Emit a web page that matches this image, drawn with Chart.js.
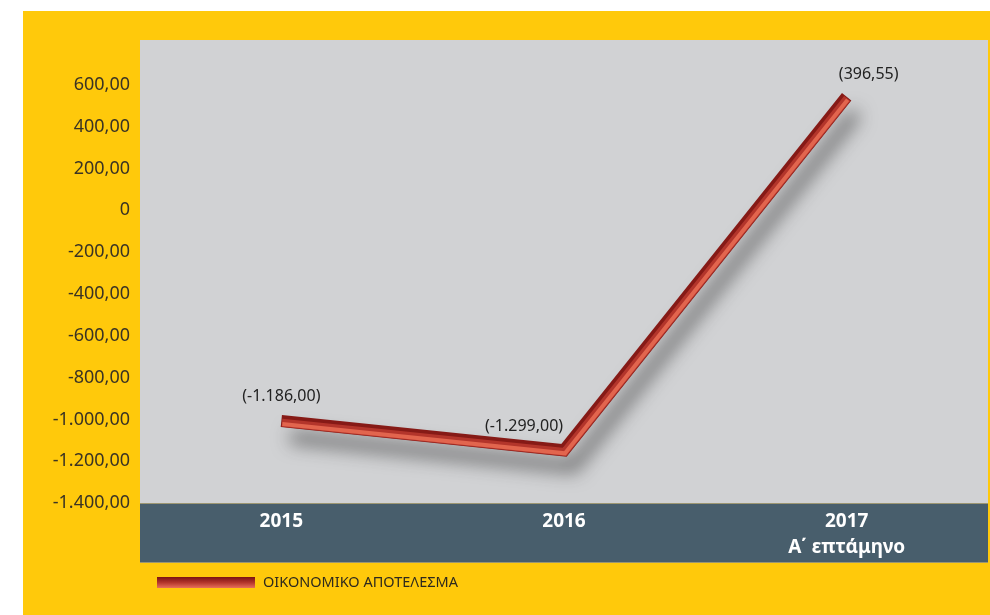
<!DOCTYPE html>
<html>
<head>
<meta charset="utf-8">
<script src="https://cdn.jsdelivr.net/npm/chart.js@4.4.0/dist/chart.umd.min.js"></script>
<style>
  html, body { margin: 0; padding: 0; background: #fff; }
  #wrap { position: absolute; left: 23px; top: 11px; width: 967px; height: 604px; background: #FFC90B; }
</style>
</head>
<body>
<div id="wrap"><canvas id="resultChart"></canvas></div>
<script>
const years = ["2015", "2016", ["2017", "Α΄ επτάμηνο"]];
const result = [-1008, -1148, 543];
const valueLabels = ["(-1.186,00)", "(-1.299,00)", "(396,55)"];
const yTicks = [600, 400, 200, 0, -200, -400, -600, -800, -1000, -1200, -1400];
const seriesName = "ΟΙΚΟΝΟΜΙΚΟ ΑΠΟΤΕΛΕΣΜΑ";

function grNumber(v) {
  if (v === 0) return "0";
  const neg = v < 0;
  const parts = Math.abs(v).toFixed(2).split(".");
  const int = parts[0].replace(/\B(?=(\d{3})+(?!\d))/g, ".");
  return (neg ? "-" : "") + int + "," + parts[1];
}

const panels = {
  id: "panels",
  beforeDraw(chart) {
    const { ctx, chartArea: a, scales: { x } } = chart;
    ctx.save();
    ctx.fillStyle = "#D1D2D4";
    ctx.fillRect(a.left, a.top, a.right - a.left, a.bottom - a.top);
    ctx.fillStyle = "#485E6C";
    ctx.fillRect(a.left, a.bottom, a.right - a.left, x.bottom - a.bottom);
    ctx.strokeStyle = "#9C9672";
    ctx.lineWidth = 1;
    ctx.beginPath();
    ctx.moveTo(a.left, a.bottom + 0.5); ctx.lineTo(a.right, a.bottom + 0.5);
    ctx.moveTo(a.left, x.bottom - 0.5); ctx.lineTo(a.right, x.bottom - 0.5);
    ctx.stroke();
    ctx.restore();
  }
};

// shadow under the line, then lighter strokes on top for the tube look
const tube = {
  id: "tube",
  beforeDatasetDraw(chart) {
    const ctx = chart.ctx;
    ctx.save();
    ctx.shadowColor = "rgba(40,40,40,0.6)";
    ctx.shadowBlur = 18;
    ctx.shadowOffsetX = 9;
    ctx.shadowOffsetY = 16;
  },
  afterDatasetDraw(chart, args) {
    const ctx = chart.ctx;
    ctx.restore();
    const pts = args.meta.data;
    const layers = [
      { dx: 0.6, dy: 1.6, w: 8, c: "#B3352B" },
      { dx: 1.0, dy: 3.0, w: 4, c: "#E2654E" }
    ];
    ctx.save();
    ctx.lineJoin = "miter";
    ctx.lineCap = "butt";
    layers.forEach(l => {
      ctx.beginPath();
      pts.forEach((p, i) => {
        if (i === 0) ctx.moveTo(p.x + l.dx, p.y + l.dy);
        else ctx.lineTo(p.x + l.dx, p.y + l.dy);
      });
      ctx.lineWidth = l.w;
      ctx.strokeStyle = l.c;
      ctx.stroke();
    });
    ctx.restore();
  }
};

const valueText = {
  id: "valueText",
  afterDatasetsDraw(chart) {
    const ctx = chart.ctx;
    const pts = chart.getDatasetMeta(0).data;
    const shift = [[0, -25], [-40, -24], [22, -22]];
    ctx.save();
    ctx.font = "16px 'Noto Sans'";
    ctx.fillStyle = "#222222";
    ctx.textAlign = "center";
    ctx.textBaseline = "middle";
    pts.forEach((p, i) => {
      ctx.fillText(valueLabels[i], p.x + shift[i][0], p.y + shift[i][1]);
    });
    ctx.restore();
  }
};

const keyBox = {
  id: "keyBox",
  afterDraw(chart) {
    const ctx = chart.ctx;
    const a = chart.chartArea;
    const x0 = a.left + 17, y0 = chart.scales.x.bottom + 14;
    const g = ctx.createLinearGradient(0, y0, 0, y0 + 11);
    g.addColorStop(0, "#7A1212");
    g.addColorStop(0.5, "#B3352B");
    g.addColorStop(1, "#E8705A");
    ctx.save();
    ctx.fillStyle = g;
    ctx.fillRect(x0, y0, 98, 11);
    ctx.font = "14.5px 'Noto Sans'";
    ctx.fillStyle = "#2E2A1E";
    ctx.textBaseline = "middle";
    ctx.fillText(chart.data.datasets[0].label, x0 + 106, y0 + 6);
    ctx.restore();
  }
};

new Chart(document.getElementById("resultChart").getContext("2d"), {
  type: "line",
  data: {
    labels: years,
    datasets: [{
      label: seriesName,
      data: result,
      borderColor: "#861A16",
      borderWidth: 12,
      borderJoinStyle: "miter",
      borderCapStyle: "butt",
      pointRadius: 0,
      tension: 0,
      fill: false
    }]
  },
  options: {
    responsive: true,
    maintainAspectRatio: false,
    animation: false,
    layout: { padding: { top: 29, right: 2, bottom: 52, left: 0 } },
    plugins: { legend: { display: false }, tooltip: { enabled: false } },
    scales: {
      x: {
        offset: true,
        grid: { display: false, drawTicks: false },
        border: { display: false },
        afterFit(scale) { scale.height = 60; },
        ticks: {
          padding: 5,
          color: "#FFFFFF",
          font: { family: "'Noto Sans'", size: 19, weight: "bold", lineHeight: 1.4 }
        }
      },
      y: {
        min: -1400,
        max: 815,
        grid: { display: false, drawTicks: false },
        border: { display: false },
        afterFit(scale) { scale.width = 117; },
        afterBuildTicks(scale) { scale.ticks = yTicks.map(v => ({ value: v })); },
        ticks: {
          padding: 10,
          color: "#3A3324",
          font: { family: "'Noto Sans'", size: 18 },
          callback: v => grNumber(v)
        }
      }
    }
  },
  plugins: [panels, tube, valueText, keyBox]
});
</script>
</body>
</html>
